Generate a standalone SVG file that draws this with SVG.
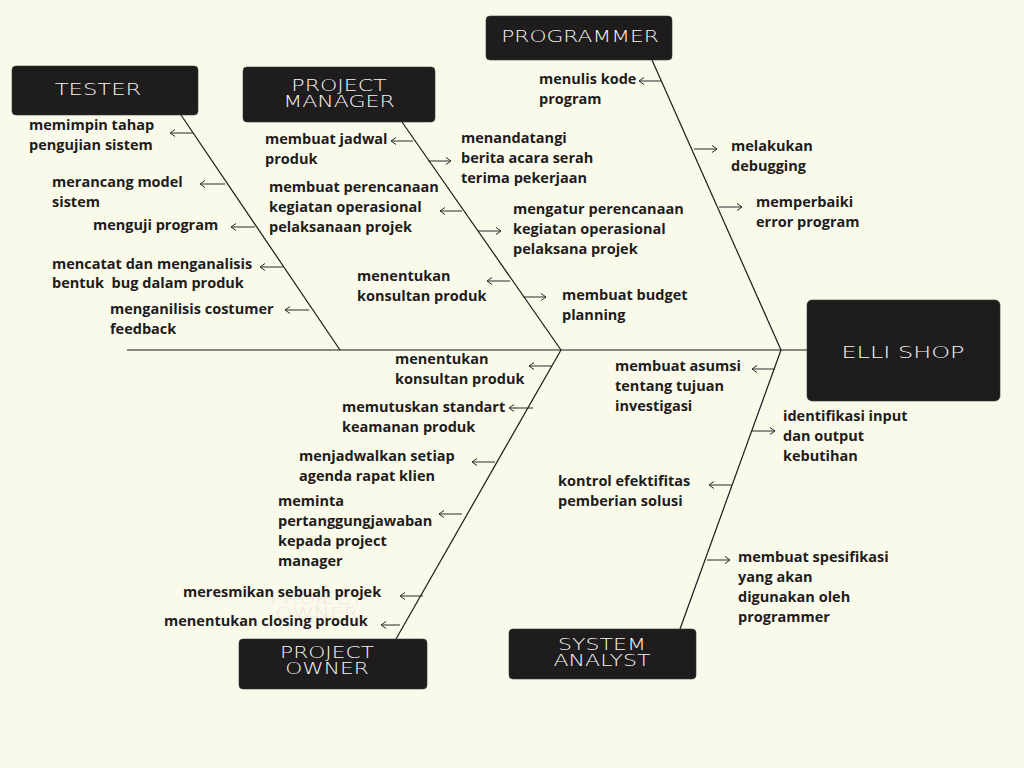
<svg xmlns="http://www.w3.org/2000/svg" width="1024" height="768" viewBox="0 0 1024 768">
<style>
.bg{fill:#fafaeb}
.box{fill:#1e1c1c;stroke:#3a3838;stroke-width:0.6}
.bt{fill:#f6f6f2;font-family:"DejaVu Sans","Liberation Sans",sans-serif;font-size:16px;font-weight:200;text-anchor:middle}
.t{fill:#1e1c1c;font-family:"Open Sans","Noto Sans",sans-serif;font-size:14.5px;font-weight:700}
.bone{stroke:#1a1a1a;stroke-width:1.2;fill:none}
.ar{stroke:#2a2a2a;stroke-width:1;fill:none}
.ghost{fill:#f3e3de;font-family:"DejaVu Sans","Liberation Sans",sans-serif;font-size:16px;font-weight:200;text-anchor:middle}
</style>
<defs>
<marker id="ah" markerWidth="10" markerHeight="10" refX="7" refY="5" orient="auto" markerUnits="userSpaceOnUse">
<path d="M2,1.5 L7,5 L2,8.5" fill="none" stroke="#2a2a2a" stroke-width="1"/>
</marker>
</defs>
<rect class="bg" x="0" y="0" width="1024" height="768"/>

<g id="connectors">
<line class="bone" x1="127" y1="350" x2="808" y2="350"/>
<line class="bone" x1="181" y1="115" x2="340" y2="350"/>
<line class="bone" x1="402" y1="122" x2="561" y2="350"/>
<line class="bone" x1="652" y1="60" x2="781" y2="350"/>
<line class="bone" x1="561" y1="350" x2="396" y2="639"/>
<line class="bone" x1="781" y1="350" x2="680" y2="629"/>
<line class="ar" x1="193" y1="133" x2="170" y2="133" marker-end="url(#ah)"/>
<line class="ar" x1="225" y1="184" x2="200" y2="184" marker-end="url(#ah)"/>
<line class="ar" x1="255" y1="227" x2="231" y2="227" marker-end="url(#ah)"/>
<line class="ar" x1="283" y1="267" x2="260" y2="267" marker-end="url(#ah)"/>
<line class="ar" x1="309" y1="310" x2="285" y2="310" marker-end="url(#ah)"/>
<line class="ar" x1="413" y1="141" x2="391" y2="141" marker-end="url(#ah)"/>
<line class="ar" x1="462" y1="211" x2="440" y2="211" marker-end="url(#ah)"/>
<line class="ar" x1="510" y1="281" x2="487" y2="281" marker-end="url(#ah)"/>
<line class="ar" x1="428" y1="161" x2="451" y2="161" marker-end="url(#ah)"/>
<line class="ar" x1="478" y1="231" x2="501" y2="231" marker-end="url(#ah)"/>
<line class="ar" x1="523" y1="297" x2="546" y2="297" marker-end="url(#ah)"/>
<line class="ar" x1="661" y1="81" x2="639" y2="81" marker-end="url(#ah)"/>
<line class="ar" x1="694" y1="149" x2="717" y2="149" marker-end="url(#ah)"/>
<line class="ar" x1="719" y1="207" x2="742" y2="207" marker-end="url(#ah)"/>
<line class="ar" x1="552" y1="366" x2="529" y2="366" marker-end="url(#ah)"/>
<line class="ar" x1="533" y1="408" x2="509" y2="408" marker-end="url(#ah)"/>
<line class="ar" x1="495" y1="462" x2="472" y2="462" marker-end="url(#ah)"/>
<line class="ar" x1="462" y1="514" x2="439" y2="514" marker-end="url(#ah)"/>
<line class="ar" x1="423" y1="596" x2="400" y2="596" marker-end="url(#ah)"/>
<line class="ar" x1="400" y1="625" x2="381" y2="625" marker-end="url(#ah)"/>
<line class="ar" x1="775" y1="369" x2="752" y2="369" marker-end="url(#ah)"/>
<line class="ar" x1="752" y1="431" x2="775" y2="431" marker-end="url(#ah)"/>
<line class="ar" x1="732" y1="485" x2="709" y2="485" marker-end="url(#ah)"/>
<line class="ar" x1="707" y1="560" x2="730" y2="560" marker-end="url(#ah)"/>
</g>

<g transform="translate(317,604) scale(1.35,1)"><text class="ghost" x="0" y="0">PROJECT</text></g>
<g transform="translate(317,619) scale(1.35,1)"><text class="ghost" x="0" y="0">OWNER</text></g>

<g id="elli-shop">
<rect class="box" x="807" y="300" width="193" height="101" rx="5"/>
<g transform="translate(903,358) scale(1.5,1)"><text class="bt" x="0" y="0" font-size="18">ELLI SHOP</text></g>
</g>

<g id="tester">
<rect class="box" x="12" y="66" width="186" height="49" rx="4"/>
<g transform="translate(98,95) scale(1.42,1)"><text class="bt" x="0" y="0">TESTER</text></g>
<text class="t" x="29" y="130">memimpin tahap</text>
<text class="t" x="29" y="150">pengujian sistem</text>
<text class="t" x="52" y="187">merancang model</text>
<text class="t" x="52" y="207">sistem</text>
<text class="t" x="93" y="230">menguji program</text>
<text class="t" x="52" y="269">mencatat dan menganalisis</text>
<text class="t" x="52" y="288">bentuk&#160; bug dalam produk</text>
<text class="t" x="110" y="314">menganilisis costumer</text>
<text class="t" x="110" y="334">feedback</text>
</g>

<g id="project-manager">
<rect class="box" x="243" y="67" width="192" height="55" rx="4"/>
<g transform="translate(339,91) scale(1.38,1)"><text class="bt" x="0" y="0">PROJECT</text></g>
<g transform="translate(339,107) scale(1.38,1)"><text class="bt" x="0" y="0">MANAGER</text></g>
<text class="t" x="265" y="144">membuat jadwal</text>
<text class="t" x="265" y="164">produk</text>
<text class="t" x="269" y="192">membuat perencanaan</text>
<text class="t" x="269" y="212">kegiatan operasional</text>
<text class="t" x="269" y="232">pelaksanaan projek</text>
<text class="t" x="357" y="281">menentukan</text>
<text class="t" x="357" y="301">konsultan produk</text>
<text class="t" x="461" y="143">menandatangi</text>
<text class="t" x="461" y="163">berita acara serah</text>
<text class="t" x="461" y="183">terima pekerjaan</text>
<text class="t" x="513" y="214">mengatur perencanaan</text>
<text class="t" x="513" y="234">kegiatan operasional</text>
<text class="t" x="513" y="254">pelaksana projek</text>
<text class="t" x="562" y="300">membuat budget</text>
<text class="t" x="562" y="320">planning</text>
</g>

<g id="programmer">
<rect class="box" x="486" y="16" width="186" height="44" rx="4"/>
<g transform="translate(580,42) scale(1.36,1)"><text class="bt" x="0" y="0">PROGRAMMER</text></g>
<text class="t" x="539" y="84">menulis kode</text>
<text class="t" x="539" y="104">program</text>
<text class="t" x="731" y="151">melakukan</text>
<text class="t" x="731" y="171">debugging</text>
<text class="t" x="756" y="207">memperbaiki</text>
<text class="t" x="756" y="227">error program</text>
</g>

<g id="project-owner">
<rect class="box" x="239" y="639" width="188" height="50" rx="4"/>
<g transform="translate(327,658) scale(1.36,1)"><text class="bt" x="0" y="0">PROJECT</text></g>
<g transform="translate(327,674) scale(1.36,1)"><text class="bt" x="0" y="0">OWNER</text></g>
<text class="t" x="395" y="364">menentukan</text>
<text class="t" x="395" y="384">konsultan produk</text>
<text class="t" x="342" y="412">memutuskan standart</text>
<text class="t" x="342" y="432">keamanan produk</text>
<text class="t" x="299" y="461">menjadwalkan setiap</text>
<text class="t" x="299" y="481">agenda rapat klien</text>
<text class="t" x="278" y="506">meminta</text>
<text class="t" x="278" y="526">pertanggungjawaban</text>
<text class="t" x="278" y="546">kepada project</text>
<text class="t" x="278" y="566">manager</text>
<text class="t" x="183" y="597">meresmikan sebuah projek</text>
<text class="t" x="164" y="626">menentukan closing produk</text>
</g>

<g id="system-analyst">
<rect class="box" x="509" y="629" width="187" height="50" rx="4"/>
<g transform="translate(602,650) scale(1.38,1)"><text class="bt" x="0" y="0">SYSTEM</text></g>
<g transform="translate(602,666) scale(1.38,1)"><text class="bt" x="0" y="0">ANALYST</text></g>
<text class="t" x="615" y="371">membuat asumsi</text>
<text class="t" x="615" y="391">tentang tujuan</text>
<text class="t" x="615" y="411">investigasi</text>
<text class="t" x="783" y="421">identifikasi input</text>
<text class="t" x="783" y="441">dan output</text>
<text class="t" x="783" y="461">kebutihan</text>
<text class="t" x="558" y="486">kontrol efektifitas</text>
<text class="t" x="558" y="506">pemberian solusi</text>
<text class="t" x="738" y="562">membuat spesifikasi</text>
<text class="t" x="738" y="582">yang akan</text>
<text class="t" x="738" y="602">digunakan oleh</text>
<text class="t" x="738" y="622">programmer</text>
</g>
</svg>
